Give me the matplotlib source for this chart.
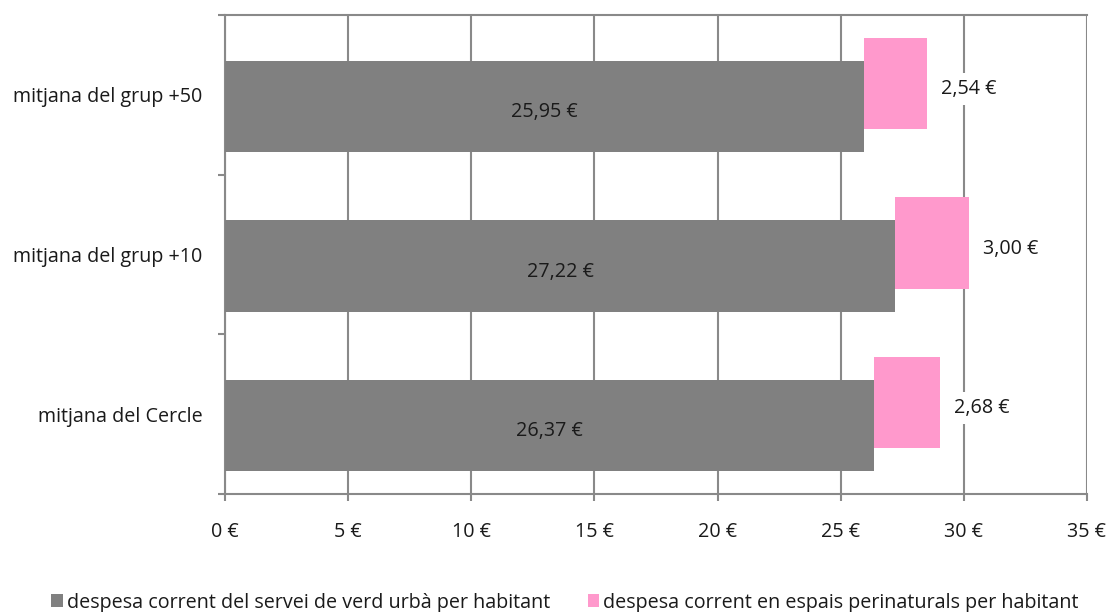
import numpy as np
import matplotlib
matplotlib.use('Agg')
import matplotlib.pyplot as plt
from matplotlib.patches import Patch

plt.rcParams['font.family'] = ['Open Sans', 'DejaVu Sans']

# dades
categories = ['mitjana del grup +50', 'mitjana del grup +10', 'mitjana del Cercle']
verd_urba = [25.95, 27.22, 26.37]
perinaturals = [2.54, 3.00, 2.68]
x_ticks = [0, 5, 10, 15, 20, 25, 30, 35]
series_names = ['despesa corrent del servei de verd urbà per habitant',
                'despesa corrent en espais perinaturals per habitant']

gray = '#808080'
pink = '#FF99CC'
grid_col = '#898989'
fs = 14.2

def eur(v):
    return f'{v:.2f}'.replace('.', ',') + ' €'

fig = plt.figure(figsize=(11.12, 6.12), dpi=100)
ax = fig.add_axes([0.2023, 0.1928, 0.7752, 0.7827])

pos = np.arange(len(categories))
off = 0.072
h = 0.57

ax.barh(pos + off, verd_urba, height=h, color=gray, zorder=3)
ax.barh(pos - off, perinaturals, left=verd_urba, height=h, color=pink, zorder=3)

# etiquetes de valor
for i in range(len(categories)):
    ax.text(verd_urba[i] / 2, pos[i] + off + 0.035, eur(verd_urba[i]),
            ha='center', va='center', fontsize=fs, color='#1a1a1a', zorder=4)
    end = verd_urba[i] + perinaturals[i]
    ax.annotate(eur(perinaturals[i]), xy=(end, pos[i] - off + 0.035), xytext=(10, 0),
                textcoords='offset points', ha='left', va='center',
                fontsize=fs, color='#1a1a1a', zorder=4,
                bbox=dict(boxstyle='square,pad=0.3', fc='white', ec='none'))

ax.set_xlim(0, 35)
ax.set_ylim(len(categories) - 0.5, -0.5)
ax.set_xticks(x_ticks)
ax.set_xticklabels([f'{t} €' for t in x_ticks])
ax.set_yticks(pos)
ax.set_yticklabels(categories)
ax.set_yticks(np.arange(-0.5, len(categories)), minor=True)

ax.xaxis.grid(True, color=grid_col, linewidth=1.5, zorder=0)
ax.tick_params(axis='x', length=5, width=1.5, color=grid_col, pad=15, labelsize=fs,
               labelcolor='#1a1a1a')
ax.tick_params(axis='y', which='major', length=0, pad=16, labelsize=fs,
               labelcolor='#1a1a1a')
ax.tick_params(axis='y', which='minor', length=5, width=1.5, color=grid_col)

for s in ['left', 'bottom', 'top']:
    ax.spines[s].set_color(grid_col)
    ax.spines[s].set_linewidth(1.5)
ax.spines['right'].set_visible(False)

handles = [Patch(facecolor=gray), Patch(facecolor=pink)]
leg = fig.legend(handles, series_names, loc='lower center', bbox_to_anchor=(0.508, -0.03),
                 ncol=2, frameon=False, fontsize=fs, handlelength=0.6, handleheight=0.6,
                 handletextpad=0.2, columnspacing=1.9)
for t in leg.get_texts():
    t.set_color('#1a1a1a')

fig.savefig('out.png', dpi=100)
